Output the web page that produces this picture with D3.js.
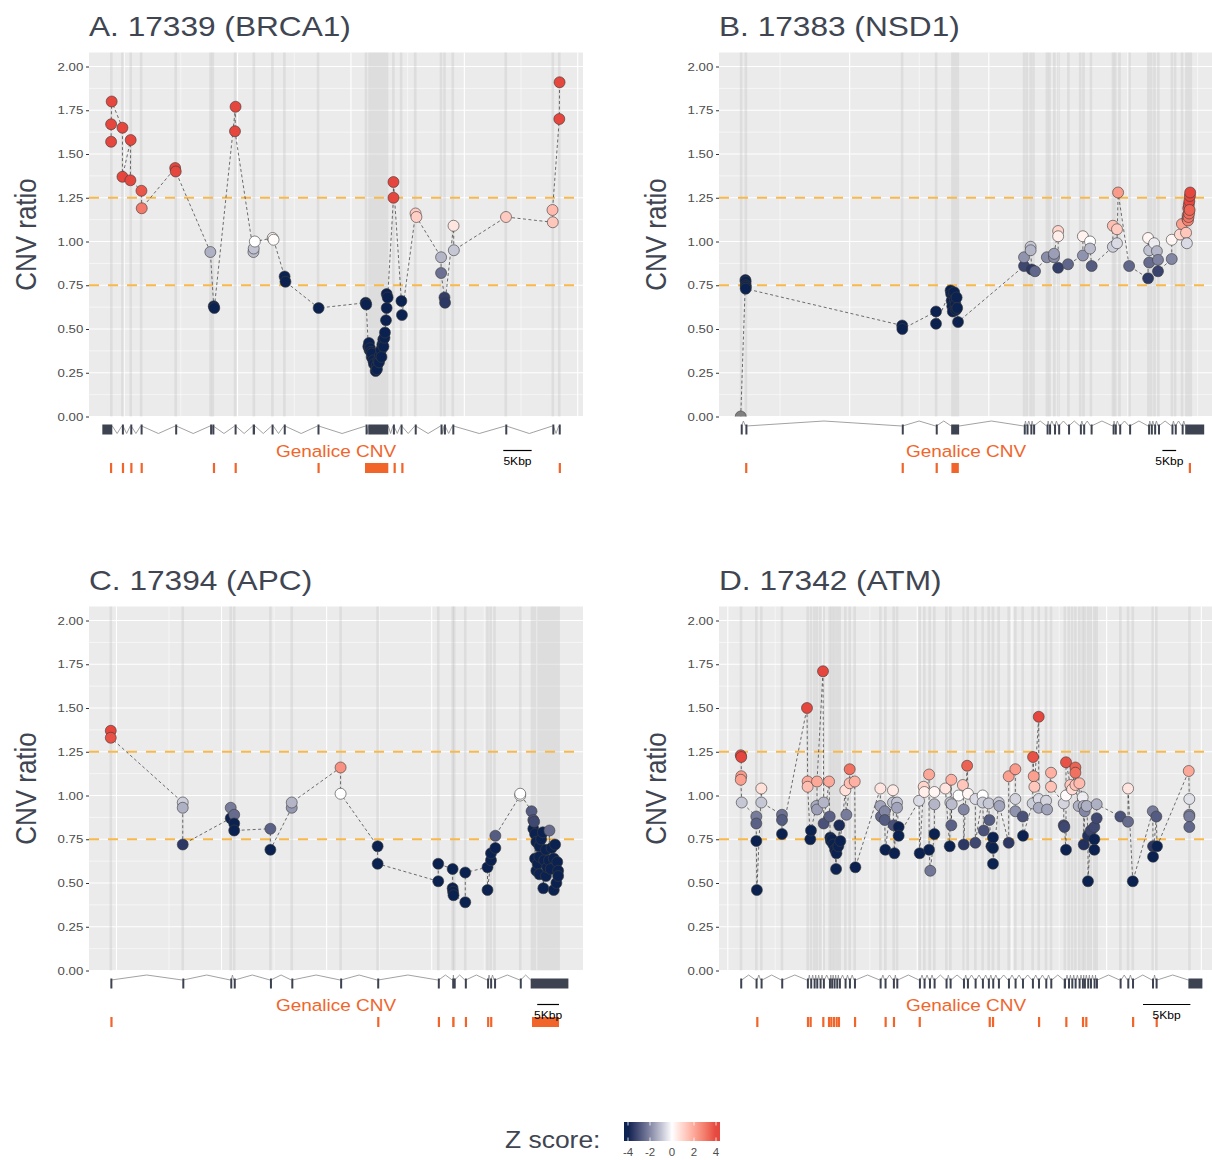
<!DOCTYPE html>
<html lang="en">
<head>
<meta charset="UTF-8">
<title>CNV ratio per exon</title>
<script src="https://cdn.jsdelivr.net/npm/d3@7"></script>
<style>
  body { margin: 0; background: #ffffff; }
  text { font-family: "Liberation Sans", Arial, Helvetica, sans-serif; }
</style>
</head>
<body>
<svg id="chart" width="1212" height="1160"></svg>
<script>
// ---- data (positions in kb from the left edge of each panel) ----
const titles = ["A. 17339 (BRCA1)", "B. 17383 (NSD1)", "C. 17394 (APC)", "D. 17342 (ATM)"];
const spans = [87.13, 179.6, 113.3, 52.16];
const strands = ["-", "+", "+", "+"];
const scaleBars = [[73.07, 78.07], [161.2, 166.2], [102.8, 107.8], [44.77, 49.77]];
// targeted part of the first / last exon (grey band), null = whole exon
const bandStarts = [3.75, null, null, null];
const bandEnds = [null, 172.0, 108.0, 49.8];
// first gridline, step, parity of the major lines
const xGrids = [[6.2, 10, 0], [22.2, 25.3, 1], [6.3, 12.05, 0], [0.93, 5, 0]];
const yBreaks = [0, 0.25, 0.5, 0.75, 1, 1.25, 1.5, 1.75, 2];
const thresholds = [0.75, 1.25];
const zBreaks = [-4, -2, 0, 2, 4];

// [position, CNV ratio, z score]
const pointsA = [
  [3.9,1.57,4],[3.9,1.67,4],[4.0,1.80,4],
  [5.9,1.65,4],[5.9,1.37,4],
  [7.35,1.58,4],[7.3,1.35,4],
  [9.25,1.29,3.7],[9.3,1.19,3],
  [15.2,1.42,4],[15.3,1.40,4],
  [21.4,0.94,-1.3],
  [22.0,0.63,-4],[22.1,0.62,-4],
  [25.85,1.77,4],[25.75,1.63,4],
  [29.0,0.94,-1.1],[29.05,0.96,-1.0],[29.25,1.00,0],
  [32.4,1.02,0.2],[32.55,1.01,0.1],
  [34.5,0.80,-4],[34.65,0.77,-4],
  [40.5,0.62,-4],
  [48.8,0.65,-4],[48.9,0.64,-4],
  [49.26,0.40,-4],[49.38,0.42,-4],[49.47,0.38,-4],[49.56,0.39,-4],[49.74,0.37,-4],[49.86,0.34,-4],
  [49.91,0.36,-4],[50.14,0.32,-4],[50.26,0.30,-4],[50.56,0.26,-4],[50.74,0.29,-4],[50.79,0.27,-4],
  [51.02,0.32,-4],[51.15,0.31,-4],[51.32,0.35,-4],[51.5,0.38,-4],[51.59,0.34,-4],[51.73,0.41,-4],
  [51.9,0.44,-4],[51.94,0.40,-4],[52.12,0.45,-4],[52.2,0.48,-4],[52.38,0.55,-4],[52.5,0.62,-4],
  [52.5,0.70,-4],[52.68,0.68,-4],
  [53.7,1.25,4],[53.7,1.34,4],
  [55.1,0.66,-4],[55.2,0.58,-4],
  [57.6,1.16,1.2],[57.75,1.14,1.1],
  [62.1,0.91,-1.2],[62.1,0.82,-2.4],[62.7,0.68,-3.4],[62.8,0.65,-3.5],
  [64.3,1.09,0.6],[64.35,0.95,-0.9],
  [73.55,1.14,1.2],
  [81.8,1.11,1.3],[81.75,1.18,1.6],
  [82.95,1.70,4],[83.0,1.91,4]
];
const pointsB = [
  [7.9,0.00,null],
  [9.6,0.78,-4],[9.7,0.77,-4],[9.7,0.75,-4],[9.75,0.74,-4],[9.7,0.73,-4],
  [66.6,0.52,-4],[66.65,0.50,-4],
  [78.9,0.60,-4],[78.9,0.53,-4],
  [84.2,0.72,-4],[84.4,0.70,-4],[84.6,0.66,-4],[84.8,0.63,-4],[85.0,0.60,-4],[85.2,0.69,-4],
  [85.5,0.71,-4],[85.8,0.67,-4],[86.0,0.64,-4],[86.2,0.61,-4],[86.4,0.68,-4],[86.6,0.62,-4],[86.9,0.54,-4],
  [110.9,0.86,-3.2],[110.9,0.91,-1.8],
  [113.3,0.97,-0.9],[113.3,0.95,-1.2],[113.7,0.84,-3.5],
  [114.9,0.83,-2.6],
  [119.2,0.91,-1.9],
  [121.8,0.91,-1.9],[121.8,0.93,-1.6],
  [123.3,1.06,1],[123.3,1.03,0.4],[123.3,0.85,-3.4],
  [126.9,0.87,-2.6],
  [132.3,0.92,-1.8],[132.3,1.03,0.3],
  [134.9,1.00,0],[134.9,0.96,-1.1],[135.5,0.86,-2.8],
  [143.2,0.97,-0.8],[143.2,1.09,1.5],
  [144.7,1.07,1.2],[144.7,0.99,-0.6],
  [145.1,1.28,2.3],
  [149.1,0.86,-2.6],
  [156.0,0.79,-3.5],[156.0,1.02,0.2],[156.4,0.95,-1],[156.4,0.88,-2.5],
  [158.2,0.99,-0.3],
  [159.2,0.945,-1.2],
  [159.6,0.895,-2.1],[159.6,0.83,-3.3],
  [164.6,0.90,-2],[164.6,1.01,0.2],
  [167.6,1.04,0.9],
  [168.3,1.10,2.2],
  [169.8,1.05,1.3],[170.1,0.99,-0.6],
  [170.3,1.13,3],[170.4,1.15,3.2],[170.5,1.12,2.9],[170.6,1.19,3.6],[170.7,1.14,3.1],[170.8,1.21,3.8],
  [170.9,1.16,3.3],[171.0,1.23,4],[171.1,1.18,3.5],[171.2,1.26,4],[171.3,1.28,4]
];
const pointsC = [
  [5.0,1.37,4],[5.0,1.33,3.8],
  [21.5,0.96,-0.8],[21.5,0.93,-1.3],[21.5,0.72,-3.5],
  [32.5,0.87,-4],[32.5,0.93,-2.2],
  [33.3,0.89,-2.5],[33.3,0.84,-4],[33.3,0.80,-4],
  [41.6,0.81,-2.7],[41.6,0.69,-4],
  [46.5,0.93,-1.7],[46.5,0.96,-1.2],
  [57.7,1.16,2.5],[57.7,1.01,0],
  [66.2,0.71,-4],[66.2,0.61,-4],
  [80.1,0.51,-4],[80.1,0.61,-4],
  [83.4,0.58,-4],[83.4,0.47,-4],[83.5,0.45,-4],[83.6,0.43,-4],
  [86.3,0.39,-4],[86.3,0.56,-4],
  [91.4,0.59,-4],[91.4,0.46,-4],
  [92.2,0.63,-4],[92.2,0.67,-4],
  [93.2,0.70,-4],[93.2,0.77,-2.8],
  [98.9,1.00,0.1],[98.9,1.01,0],
  [101.5,0.91,-2.8],[101.9,0.86,-3],[101.9,0.81,-4],[102.1,0.85,-3.2],[102.3,0.78,-4],[102.3,0.64,-4],
  [102.6,0.735,-4],[102.6,0.57,-4],[102.9,0.61,-4],[103.3,0.71,-4],[103.3,0.65,-4],[103.3,0.55,-4],
  [103.7,0.75,-4],[104.1,0.79,-4],[104.2,0.47,-4],[104.4,0.63,-4],[104.8,0.69,-4],[104.8,0.54,-4],
  [105.1,0.59,-4],[105.5,0.63,-4],[105.6,0.80,-2.5],[105.9,0.58,-4],[106.1,0.70,-4],[106.6,0.64,-4],
  [106.6,0.46,-4],[106.9,0.72,-4],[107.2,0.50,-4],[107.4,0.62,-4],[107.6,0.57,-4],[107.6,0.54,-4]
];
const pointsD = [
  [2.3,1.23,3.8],[2.35,1.22,4],[2.35,1.11,2.3],[2.3,1.09,2.2],[2.4,0.96,-0.9],
  [3.94,0.88,-2.2],[3.94,0.84,-2.7],[3.94,0.74,-4],[4.0,0.46,-4],
  [4.47,1.04,0.7],[4.47,0.96,-0.9],
  [6.65,0.89,-2.4],[6.65,0.86,-2.8],[6.65,0.78,-4],
  [9.29,1.50,4],[9.36,1.08,2],[9.36,1.05,1.5],[9.64,0.75,-4],[9.71,0.80,-4],
  [10.28,0.94,-1.4],[10.35,0.92,-1.6],[10.35,1.08,2],
  [10.98,1.71,4],[11.05,0.96,-1.2],[11.05,0.84,-3],
  [11.62,1.08,2],[11.69,0.88,-2.7],
  [11.75,0.76,-4],[11.82,0.74,-4],[11.92,0.75,-4],[12.08,0.72,-4],[12.26,0.69,-4],[12.36,0.58,-4],
  [12.4,0.67,-4],[12.6,0.71,-4],[12.7,0.83,-3.8],[12.81,0.74,-4],
  [13.34,1.03,0.7],[13.45,0.89,-2.2],
  [13.8,1.07,1.5],[13.8,1.15,3.2],
  [14.33,1.08,1.8],[14.4,0.59,-4],
  [17.04,1.04,0.6],[17.04,0.94,-1.5],[17.1,0.88,-2.5],[17.5,0.91,-2],[17.5,0.86,-2.8],[17.56,0.69,-4],
  [18.37,1.03,0.5],[18.37,0.96,-1],[18.44,0.83,-3],[18.52,0.67,-4],[18.8,0.96,-1],[18.8,0.93,-1.5],
  [18.97,0.82,-4],[18.97,0.77,-4],
  [21.12,0.97,-0.6],[21.19,0.67,-4],
  [21.61,1.05,1],[21.68,1.02,0.4],
  [22.18,1.12,2],[22.18,0.69,-4],[22.31,0.57,-2.3],
  [22.74,0.78,-4],[22.74,0.95,-1.2],[22.74,1.02,0.2],
  [23.9,1.04,0.6],
  [24.36,0.71,-4],[24.43,0.96,-0.9],[24.53,1.09,1.8],[24.53,0.83,-2.7],[24.57,0.95,-1.1],
  [25.3,1.00,0],
  [25.75,1.06,1.3],[25.84,0.92,-2],[25.84,0.72,-3.5],
  [26.2,1.17,3.5],[26.29,1.01,0.2],
  [27.07,0.98,-0.6],[27.07,0.73,-3.2],
  [27.84,1.00,0],[27.84,0.96,-0.8],[27.95,0.80,-3],
  [28.47,0.955,-0.9],[28.55,0.86,-2.8],[28.76,0.71,-4],[28.93,0.76,-4],[28.93,0.70,-4],[28.93,0.61,-4],
  [29.53,0.96,-0.9],[29.6,0.94,-1.5],
  [30.59,0.73,-3.5],[30.59,1.11,2.2],
  [31.29,1.15,2.3],[31.29,0.98,-0.7],[31.29,0.91,-1.8],
  [32.07,0.88,-3],[32.1,0.77,-4],
  [33.12,0.955,-0.8],[33.16,1.22,3.8],[33.23,1.11,2.2],[33.3,1.05,1.3],
  [33.76,1.45,4],[33.76,0.98,-0.6],[33.76,0.93,-1.4],
  [34.53,0.97,-0.7],[34.64,0.92,-1.5],
  [35.06,1.13,1.8],[35.06,1.05,1.4],
  [36.4,0.955,-0.7],[36.4,0.83,-3.2],[36.47,0.82,-3.2],
  [36.64,0.69,-4],[36.64,1.00,0.1],[36.64,1.19,3.8],
  [37.1,1.06,1.3],[37.28,1.035,0.8],
  [37.63,1.16,3.5],[37.63,1.13,3.2],[37.63,1.06,1.4],
  [37.98,0.94,-1.3],[38.05,1.07,1.6],
  [38.4,0.99,-0.3],[38.51,0.94,-1.3],[38.51,0.72,-3.7],[38.61,0.91,-2],[38.82,0.94,-1.3],
  [38.96,0.77,-3.7],[38.96,0.51,-4],
  [39.25,0.80,-3.3],
  [39.63,0.82,-3.2],[39.63,0.75,-4],[39.63,0.69,-4],
  [39.88,0.87,-3.2],[39.88,0.95,-1.3],
  [42.38,0.88,-3],
  [43.19,0.85,-2.5],[43.19,1.04,0.6],
  [43.69,0.51,-4],
  [45.8,0.91,-2.2],[45.83,0.71,-3.5],[45.83,0.65,-4],
  [46.18,0.88,-2.8],[46.25,0.71,-4],
  [49.6,1.14,2],[49.66,0.98,-0.5],[49.66,0.89,-2],[49.66,0.88,-2.2],[49.66,0.82,-2.6]
];

// exons [start, end] in kb
const exonsA = [[2.35,4.11],[5.8,6.0],[7.28,7.45],[9.1,9.28],[15.2,15.4],[21.36,21.52],[21.76,21.92],
  [25.68,25.85],[28.87,29.28],[32.2,32.5],[34.35,34.55],[40.3,40.5],[48.78,48.92],[49.26,52.79],
  [53.6,53.78],[54.95,55.15],[57.45,57.62],[62.0,62.15],[62.6,62.8],[64.08,64.25],[73.42,73.6],
  [81.72,81.9],[82.85,83.02]];
const exonsB = [[7.9,8.15],[9.6,9.9],[66.45,66.7],[78.8,79.05],[84.4,87.3],[110.8,111.05],[111.8,112.05],
  [113.2,113.45],[114.2,114.45],[119.1,119.35],[120.0,120.25],[121.8,122.05],[123.3,123.55],
  [126.9,127.15],[131.2,131.45],[132.4,132.65],[135.1,135.35],[143.1,143.35],[143.9,144.15],
  [145.5,145.75],[149.1,149.35],[156.0,156.25],[157.0,157.25],[158.2,158.45],[159.6,159.85],
  [164.5,164.75],[165.7,165.95],[168.2,168.45],[169.5,176.4]];
const exonsC = [[4.9,5.1],[21.4,21.6],[32.4,32.6],[33.2,33.4],[41.5,41.7],[46.4,46.6],[57.6,57.8],
  [66.1,66.3],[80.0,80.2],[83.3,83.5],[83.65,83.85],[86.2,86.4],[91.3,91.5],[92.0,92.2],[92.9,93.1],
  [98.8,99.0],[101.3,109.95]];
const exonsD = [[2.24,2.4],[3.86,4.02],[4.39,4.55],[6.57,6.73],[9.28,9.44],[9.63,9.79],[9.99,10.15],
  [10.27,10.43],[10.62,10.78],[10.97,11.13],[11.61,11.77],[11.84,12.0],[12.1,12.26],[12.38,12.54],
  [12.66,12.82],[13.26,13.42],[13.72,13.88],[14.25,14.41],[16.96,17.12],[17.48,17.64],[18.36,18.52],
  [18.72,18.88],[21.11,21.27],[21.6,21.76],[22.17,22.33],[22.66,22.82],[23.92,24.08],[24.35,24.51],
  [25.76,25.92],[26.18,26.34],[26.99,27.15],[27.76,27.92],[28.39,28.55],[28.85,29.01],[29.45,29.61],
  [30.51,30.67],[31.21,31.37],[31.99,32.15],[33.04,33.2],[33.68,33.84],[34.45,34.61],[34.98,35.14],
  [36.4,36.64],[36.85,37.01],[37.2,37.36],[37.55,37.71],[37.97,38.13],[38.32,38.48],[38.53,38.69],
  [38.88,39.04],[39.17,39.33],[39.55,39.71],[39.8,39.96],[42.3,42.46],[43.11,43.27],[43.61,43.77],
  [45.72,45.88],[46.1,46.26],[49.56,51.04]];

// Genalice CNV calls [start, end] in kb
const cnvA = [[3.7,4.0],[5.8,6.0],[7.28,7.45],[9.1,9.28],[21.85,22.02],[25.68,25.85],[40.3,40.5],
  [48.68,52.79],[53.72,53.9],[55.08,55.25],[82.85,83.02]];
const cnvB = [[9.5,9.9],[66.4,66.75],[78.75,79.1],[84.5,87.2],[170.8,171.3]];
const cnvC = [[4.9,5.1],[66.1,66.3],[80.0,80.2],[83.3,83.85],[86.2,86.4],[91.3,91.5],[92.0,92.2],[101.6,107.8]];
const cnvD = [[3.93,4.09],[9.28,9.44],[9.56,9.72],[10.9,11.06],[11.5,11.66],[11.74,11.9],[12.02,12.18],
  [12.31,12.47],[12.55,12.71],[14.25,14.41],[17.48,17.64],[18.36,18.52],[21.08,21.24],[28.47,28.63],
  [28.82,28.98],[33.68,33.84],[36.56,36.72],[38.32,38.48],[38.67,38.83],[43.61,43.77],[46.1,46.26]];

const allPoints = [pointsA, pointsB, pointsC, pointsD];
const allExons = [exonsA, exonsB, exonsC, exonsD];
const allCnv = [cnvA, cnvB, cnvC, cnvD];

// ---- layout ----
const frames = [[89, 416.5], [719, 416.5], [89, 970.5], [719, 970.5]];
const plotW = 494, yUnit = 175, yMax = 2.08;
const stretch = 1.15;          // the figure's lettering is drawn a little wide
const ink = "#404552", tickInk = "#4d4d4d", orange = "#f1652b";

const zColor = d3.scaleLinear().domain([-4, 0, 4])
  .range(["#0b2250", "#ffffff", "#e5463d"])
  .interpolate(d3.interpolateLab).clamp(true);
const fillFor = z => z === null ? "#7f7f7f" : zColor(z);

const svg = d3.select("#chart");
const defs = svg.append("defs");

function label(parent, x, y, str, size, fill, anchor, rotate) {
  return parent.append("g")
    .attr("transform", `translate(${x},${y}) scale(${stretch},1)` + (rotate ? " rotate(-90)" : ""))
    .append("text")
    .attr("font-size", size)
    .attr("fill", fill)
    .attr("text-anchor", anchor || "start")
    .text(str);
}

allPoints.forEach((pts, i) => {
  const [left, base] = frames[i];
  const x = d3.scaleLinear().domain([0, spans[i]]).range([left, left + plotW]);
  const y = d3.scaleLinear().domain([0, yMax]).range([base, base - yMax * yUnit]);
  const top = y(yMax);
  const g = svg.append("g");

  defs.append("clipPath").attr("id", "clip" + i)
    .append("rect").attr("x", left).attr("y", top).attr("width", plotW).attr("height", base - top);

  g.append("rect").attr("x", left).attr("y", top).attr("width", plotW).attr("height", base - top)
    .attr("fill", "#ebebeb");

  // horizontal grid
  g.selectAll("line.ymin").data(d3.range(0.125, yMax, 0.25)).join("line")
    .attr("x1", left).attr("x2", left + plotW).attr("y1", d => y(d)).attr("y2", d => y(d))
    .attr("stroke", "#ffffff").attr("stroke-width", 0.55);
  g.selectAll("line.ymaj").data(yBreaks).join("line")
    .attr("x1", left).attr("x2", left + plotW).attr("y1", d => y(d)).attr("y2", d => y(d))
    .attr("stroke", "#ffffff").attr("stroke-width", 1.1);

  // vertical grid
  const [gFirst, gStep, gMajor] = xGrids[i];
  const xs = d3.range(gFirst, spans[i], gStep);
  g.selectAll("line.xg").data(xs).join("line")
    .attr("x1", d => x(d)).attr("x2", d => x(d)).attr("y1", top).attr("y2", base)
    .attr("stroke", "#ffffff").attr("stroke-width", (d, k) => k % 2 === gMajor ? 1.1 : 0.55);

  // exon bands (targeted regions)
  const exons = allExons[i];
  const last = exons.length - 1;
  const bands = exons.map((e, k) => [
    (k === 0 && bandStarts[i] !== null) ? bandStarts[i] : e[0],
    (k === last && bandEnds[i] !== null) ? bandEnds[i] : e[1]
  ]);
  g.selectAll("rect.band").data(bands).join("rect")
    .attr("x", d => { const w = Math.max(x(d[1]) - x(d[0]), 2.6); return (x(d[0]) + x(d[1])) / 2 - w / 2; })
    .attr("width", d => Math.max(x(d[1]) - x(d[0]), 2.6))
    .attr("y", top).attr("height", base - top)
    .attr("fill", "#bdbdbd").attr("opacity", 0.3);

  // thresholds
  g.selectAll("line.thr").data(thresholds).join("line")
    .attr("x1", left).attr("x2", left + plotW).attr("y1", d => y(d)).attr("y2", d => y(d))
    .attr("stroke", "#f8b84a").attr("stroke-width", 2).attr("stroke-dasharray", "10,9");

  const inner = g.append("g").attr("clip-path", `url(#clip${i})`);
  inner.append("path").datum(pts)
    .attr("d", d3.line().x(d => x(d[0])).y(d => y(d[1])))
    .attr("fill", "none").attr("stroke", "#333333").attr("stroke-width", 0.7)
    .attr("stroke-dasharray", "3,2.5");
  inner.selectAll("circle").data(pts).join("circle")
    .attr("cx", d => x(d[0])).attr("cy", d => y(d[1])).attr("r", 5.5)
    .attr("fill", d => fillFor(d[2])).attr("stroke", "#3a3a3a").attr("stroke-width", 0.6);

  // y axis
  const ax = g.append("g").attr("transform", `translate(${left},0)`)
    .call(d3.axisLeft(y).tickValues(yBreaks).tickFormat(d3.format(".2f")).tickSize(3).tickPadding(2));
  ax.attr("font-family", null).attr("font-size", null);
  ax.select(".domain").remove();
  ax.selectAll(".tick line").attr("stroke", "#333333");
  ax.selectAll(".tick text").attr("fill", tickInk).attr("font-size", 11.5)
    .attr("transform", `scale(${stretch},1)`);

  label(g, left - 53, (base + top) / 2, "CNV ratio", 26, ink, "middle", true);
  label(g, left, base - 380.5, titles[i], 27.5, ink);

  // gene model
  const endY = base + 9.5;
  const tipY = strands[i] === "-" ? base + 17 : base + 4.5;
  const introns = exons.slice(1).map((e, k) => [exons[k][1], e[0]]);
  g.selectAll("path.intron").data(introns).join("path")
    .attr("d", d => `M${x(d[0])},${endY}L${(x(d[0]) + x(d[1])) / 2},${tipY}L${x(d[1])},${endY}`)
    .attr("fill", "none").attr("stroke", "#8a8a8a").attr("stroke-width", 0.8);
  g.selectAll("rect.exon").data(exons).join("rect")
    .attr("x", d => x(d[0])).attr("width", d => Math.max(x(d[1]) - x(d[0]), 2))
    .attr("y", base + 8).attr("height", 10)
    .attr("fill", "#3e4351");

  label(g, left + plotW / 2, base + 40.5, "Genalice CNV", 16.5, orange, "middle");
  g.selectAll("rect.cnv").data(allCnv[i]).join("rect")
    .attr("x", d => x(d[0])).attr("width", d => Math.max(x(d[1]) - x(d[0]), 2.2))
    .attr("y", base + 46.5).attr("height", 10)
    .attr("fill", orange);

  const sb = scaleBars[i];
  g.append("line").attr("x1", x(sb[0])).attr("x2", x(sb[1])).attr("y1", base + 34).attr("y2", base + 34)
    .attr("stroke", "#000000").attr("stroke-width", 1.2);
  label(g, (x(sb[0]) + x(sb[1])) / 2, base + 48.5, "5Kbp", 10.5, "#000000", "middle");
});

// ---- legend ----
const lx = d3.scaleLinear().domain([-4, 4]).range([628, 716]);
const grad = defs.append("linearGradient").attr("id", "zgrad")
  .attr("x1", "0%").attr("x2", "100%").attr("y1", "0%").attr("y2", "0%");
const zLo = lx.invert(624), zHi = lx.invert(720);
d3.range(0, 1.0001, 0.05).forEach(t => {
  grad.append("stop").attr("offset", (t * 100) + "%").attr("stop-color", zColor(zLo + t * (zHi - zLo)));
});
label(svg, 505, 1148, "Z score:", 23, ink);
svg.append("rect").attr("x", 624).attr("y", 1122).attr("width", 96).attr("height", 19)
  .attr("fill", "url(#zgrad)");
svg.selectAll("line.zt").data(zBreaks).join("line")
  .attr("x1", d => lx(d)).attr("x2", d => lx(d)).attr("y1", 1122).attr("y2", 1125.5)
  .attr("stroke", "#ffffff").attr("stroke-width", 0.8);
svg.selectAll("line.zb").data(zBreaks).join("line")
  .attr("x1", d => lx(d)).attr("x2", d => lx(d)).attr("y1", 1137.5).attr("y2", 1141)
  .attr("stroke", "#ffffff").attr("stroke-width", 0.8);
zBreaks.forEach(b => label(svg, lx(b), 1155.5, String(b), 10, tickInk, "middle"));
</script>
</body>
</html>
